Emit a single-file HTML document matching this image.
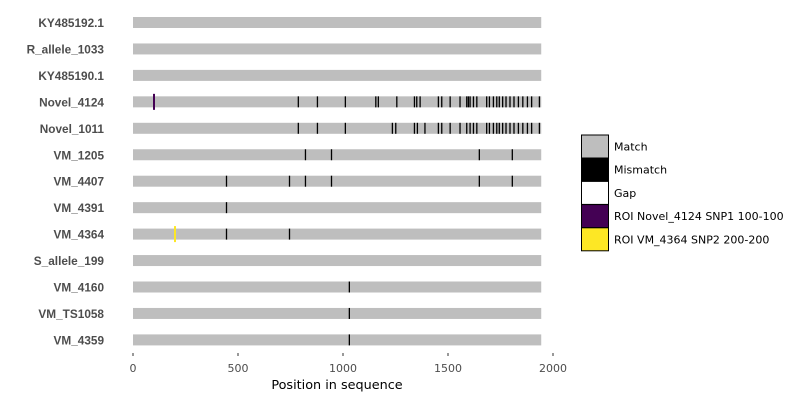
<!DOCTYPE html>
<html><head><meta charset="utf-8"><style>
body{margin:0;background:#fff;font-family:"DejaVu Sans",sans-serif}
</style></head><body>
<svg id="chart" width="800" height="400" xmlns="http://www.w3.org/2000/svg" font-family="DejaVu Sans, sans-serif"></svg>
<script>
const seqNames=["KY485192.1","R_allele_1033","KY485190.1","Novel_4124","Novel_1011","VM_1205","VM_4407","VM_4391","VM_4364","S_allele_199","VM_4160","VM_TS1058","VM_4359"];
const seqLength=1944;
const mismatches=[
[],[],[],
[787,878,1011,1156,1168,1256,1340,1351,1367,1454,1470,1510,1557,1589,1597,1605,1621,1637,1684,1697,1716,1732,1744,1760,1776,1795,1814,1835,1856,1878,1898,1935],
[787,878,1011,1235,1251,1340,1354,1390,1454,1470,1510,1557,1589,1605,1621,1637,1684,1697,1716,1732,1744,1760,1776,1795,1814,1835,1856,1878,1898,1935],
[821,945,1649,1806],
[445,745,821,945,1649,1806],
[445],
[445,745],
[],[1030],[1030],[1030]];
const rois=[{row:3,pos:100,color:"#440154"},{row:8,pos:200,color:"#FDE725"}];
const xTicks=[0,500,1000,1500,2000];
const legendLabels=["Match","Mismatch","Gap","ROI Novel_4124 SNP1 100-100","ROI VM_4364 SNP2 200-200"];
const legendColors=["#bebebe","#000000","#ffffff","#440154","#FDE725"];

const svg=document.getElementById('chart');
const NS="http://www.w3.org/2000/svg";
const x=v=>133+v*0.21;
const y=i=>22.5+i*26.45;
function mk(t,a){const e=document.createElementNS(NS,t);for(const k in a)e.setAttribute(k,a[k]);svg.appendChild(e);return e;}
seqNames.forEach((n,i)=>{
  const cy=y(i);
  const t=mk('text',{x:104,y:cy+4.5,'text-anchor':'end','font-size':11.8,'font-weight':'bold','font-family':'Liberation Sans, sans-serif',fill:'#4d4d4d'});
  t.textContent=n;
  
  
  const r=mk('rect',{x:x(0),y:cy-5.5,width:x(seqLength)-x(0),height:11,fill:'#bebebe'});
  
  
  mismatches[i].forEach(p=>{
    const m=mk('rect',{x:x(p)-0.6,y:cy-5.5,width:1.3,height:11,fill:'#000'});
    
    
  });
});
rois.forEach(r=>{
  const cy=y(r.row);
  const m=mk('rect',{x:x(r.pos)-1,y:cy-8,width:2,height:16,fill:r.color});
  
  
});
xTicks.forEach(v=>{
  const l=mk('line',{x1:x(v),x2:x(v),y1:353,y2:356,stroke:'#333','stroke-width':1});
  
  
  const t=mk('text',{x:x(v),y:372,'text-anchor':'middle','font-size':11,fill:'#4d4d4d'});
  t.textContent=v;
  
  
});
const xt=mk('text',{x:337,y:389,'text-anchor':'middle','font-size':12.8,fill:'#000'});
xt.textContent="Position in sequence";


legendLabels.forEach((lab,i)=>{
  const ly=135+i*23.2;
  const r=mk('rect',{x:581.5,y:ly,width:27,height:23,fill:legendColors[i],stroke:'#000','stroke-width':1});
  
  
  const t=mk('text',{x:614,y:ly+15.5,'font-size':11,fill:'#000'});
  t.textContent=lab;
  
  
});
</script>
</body></html>
